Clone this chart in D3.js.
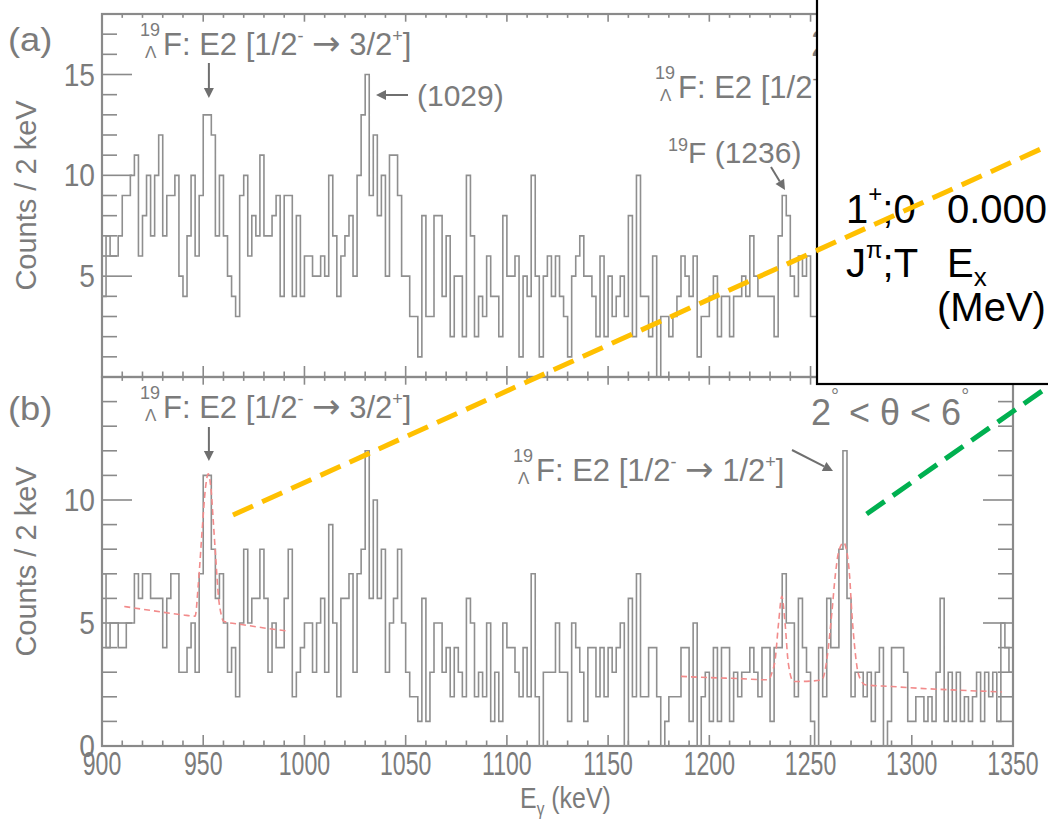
<!DOCTYPE html>
<html>
<head>
<meta charset="utf-8">
<script src="https://cdn.jsdelivr.net/npm/d3@7"></script>
<style>
  body { margin: 0; background: #fff; }
  svg { display: block; }
  text { font-family: "Liberation Sans", Arial, Helvetica, sans-serif; }
  .gray text { fill: #7b7b7b; }
  .box text { fill: #000; }
</style>
</head>
<body>
<svg id="chart" width="1048" height="822"></svg>
<script>
// Gamma-ray spectra, 2 keV bins starting at 900 keV
const binStart = 900;
const binWidth = 2;

// (a) counts per bin, 900 - 1254 keV
const countsA = [
  4, 7, 6, 6, 7, 9, 9, 10, 11, 6, 8, 10, 7, 10, 12, 7, 9, 9, 10, 5,
  4, 7, 10, 6, 9, 13, 13, 12, 7, 10, 7, 5, 4, 3, 9, 10, 6, 8, 7, 11,
  7, 7, 8, 9, 4, 9, 9, 4, 8, 4, 6, 6, 5, 5, 6, 5, 10, 7, 4, 6,
  7, 8, 5, 10, 13, 15, 9, 12, 8, 10, 5, 11, 11, 9, 5, 5, 3, 3, 1, 8,
  3, 3, 8, 8, 4, 7, 2, 5, 5, 2, 10, 7, 2, 4, 3, 6, 4, 4, 2, 8,
  5, 5, 6, 1, 5, 4, 10, 5, 1, 5, 6, 4, 6, 4, 3, 1, 5, 6, 7, 5,
  5, 4, 2, 6, 2, 5, 3, 4, 5, 3, 8, 2, 10, 4, 4, 2, 6, 0, 3, 3,
  2, 3, 4, 6, 5, 4, 6, 1, 3, 3, 4, 5, 2, 4, 4, 2, 4, 4, 5, 4,
  7, 5, 4, 4, 4, 4, 2, 7, 9, 8, 5, 4, 6, 5, 6, 3, 3
];

// (b) counts per bin, 900 - 1348 keV
const countsB = [
  7, 4, 5, 5, 4, 4, 5, 5, 7, 6, 7, 7, 6, 6, 6, 4, 6, 7, 7, 3,
  3, 4, 5, 3, 7, 11, 11, 8, 6, 7, 5, 3, 4, 2, 5, 8, 5, 6, 6, 8,
  6, 3, 5, 4, 4, 6, 8, 2, 3, 4, 5, 5, 3, 5, 6, 3, 9, 5, 2, 6,
  6, 7, 3, 7, 8, 12, 6, 10, 6, 8, 3, 5, 6, 8, 5, 3, 2, 2, 1, 6,
  1, 3, 5, 5, 3, 4, 2, 4, 3, 2, 6, 5, 2, 3, 2, 5, 1, 3, 1, 5,
  4, 4, 3, 2, 4, 2, 7, 2, 0, 3, 3, 3, 5, 3, 3, 1, 5, 4, 3, 1,
  4, 4, 2, 4, 2, 4, 3, 4, 5, 0, 6, 2, 7, 2, 2, 4, 4, 2, 0, 1,
  2, 2, 2, 4, 4, 1, 5, 0, 2, 3, 1, 4, 1, 4, 4, 1, 3, 2, 3, 3,
  4, 3, 2, 4, 4, 1, 4, 4, 7, 5, 5, 2, 6, 4, 3, 1, 0, 4, 2, 6,
  4, 4, 8, 12, 6, 2, 3, 3, 2, 3, 1, 3, 4, 0, 1, 4, 4, 4, 3, 1,
  1, 2, 2, 1, 2, 1, 3, 6, 1, 3, 1, 3, 1, 2, 1, 2, 3, 1, 3, 2,
  3, 1, 5, 4, 3
];

// Fitted curves drawn on (b): [E (keV), counts]
const fitLow = [
  [911, 5.67], [925, 5.5], [940, 5.33], [946, 5.28], [947.6, 6.6], [949.5, 8.8],
  [951, 10.4], [952.5, 11.06], [954, 10.3], [955, 9.1], [956.3, 7.5], [957.5, 6.1],
  [959, 5.3], [960, 5.07], [969, 4.94], [980, 4.8], [992, 4.67]
];
const fitHigh = [
  [1186, 2.83], [1200, 2.78], [1215, 2.74], [1229, 2.69], [1231, 3.0], [1232.5, 3.5],
  [1234.2, 5.0], [1235.8, 6.09], [1237.4, 5.0], [1239, 3.37], [1241.6, 2.62],
  [1250, 2.64], [1255.6, 2.69], [1258.2, 3.6], [1260.5, 5.4], [1262.3, 7.0],
  [1263.8, 7.86], [1266.3, 8.27], [1268, 7.86], [1269.3, 6.9], [1270.4, 5.4],
  [1271.7, 4.1], [1272.9, 3.24], [1275, 2.65], [1277, 2.49], [1290, 2.42],
  [1303, 2.35], [1320, 2.28], [1344.5, 2.2]
];

const xTickLabels = [900, 950, 1000, 1050, 1100, 1150, 1200, 1250, 1300, 1350];
const yTickLabelsA = [5, 10, 15];
const yTickLabelsB = [0, 5, 10];

// Layout
const left = 102, right = 1013;
const panelA = { top: 14, bottom: 377, ymax: 18 };
const panelB = { top: 377, bottom: 746, ymax: 15 };
const axisColor = "#8a8a8a";
const histColor = "#8f8f8f";

const svg = d3.select("#chart");
const x = d3.scaleLinear().domain([900, 1350]).range([left, right]);
const yA = d3.scaleLinear().domain([0, panelA.ymax]).range([panelA.bottom, panelA.top]);
const yB = d3.scaleLinear().domain([0, panelB.ymax]).range([panelB.bottom, panelB.top]);

// text placed at (tx, ty) with a horizontal stretch factor sx
function label(g, tx, ty, size, sx = 1, anchor = "start", rot = 0) {
  return g.append("g")
    .attr("transform", `translate(${tx},${ty}) rotate(${rot}) scale(${sx},1)`)
    .append("text").attr("font-size", size).attr("text-anchor", anchor);
}

function histPath(counts, y) {
  const pts = counts.map((c, i) => [binStart + i * binWidth, c]);
  pts.push([binStart + counts.length * binWidth, counts[counts.length - 1]]);
  return d3.line().x(d => x(d[0])).y(d => y(d[1])).curve(d3.curveStepAfter)(pts);
}

function drawFrame(panel, y, opts) {
  const g = svg.append("g");
  const majorY = 30, minorY = 15, majorX = 11, minorX = 5.5;
  const stroke = s => s.attr("stroke", axisColor).attr("stroke-width", 1.6);
  g.append("rect").attr("x", left).attr("y", panel.top)
    .attr("width", right - left).attr("height", panel.bottom - panel.top)
    .attr("fill", "none").attr("stroke", axisColor).attr("stroke-width", 2.2);
  // x ticks on bottom and top edges, pointing inward
  d3.range(900, 1351, 10).forEach(v => {
    const len = v % 50 === 0 ? majorX : minorX;
    stroke(g.append("line").attr("x1", x(v)).attr("x2", x(v))
      .attr("y1", panel.bottom).attr("y2", panel.bottom - len));
    stroke(g.append("line").attr("x1", x(v)).attr("x2", x(v))
      .attr("y1", panel.top).attr("y2", panel.top + len * 0.7));
  });
  // y ticks on left and right edges
  d3.range(0, panel.ymax + 0.01, 1).forEach(v => {
    const len = v % 5 === 0 ? majorY : minorY;
    stroke(g.append("line").attr("x1", left).attr("x2", left + len)
      .attr("y1", y(v)).attr("y2", y(v)));
    stroke(g.append("line").attr("x1", right).attr("x2", right - len)
      .attr("y1", y(v)).attr("y2", y(v)));
  });
  const lab = g.append("g").attr("class", "gray");
  opts.yLabels.forEach(v => {
    label(lab, 95, y(v) + 11, 32, 0.88, "end").text(v);
  });
  const yc = (panel.top + panel.bottom) / 2;
  label(lab, 36, yc, 29, 1, "middle", -90).text("Counts / 2 keV");
  label(lab, 8, opts.tagY, 33, 1.1).text(opts.tag);
  return g;
}

function arrow(g, x1, y1, x2, y2) {
  const ang = Math.atan2(y2 - y1, x2 - x1);
  const hl = 10, hw = 5;
  const bx = x2 - hl * Math.cos(ang), by = y2 - hl * Math.sin(ang);
  g.append("line").attr("x1", x1).attr("y1", y1).attr("x2", bx).attr("y2", by)
    .attr("stroke", "#6f6f6f").attr("stroke-width", 2);
  g.append("path")
    .attr("d", `M${x2},${y2} L${bx - hw * Math.sin(ang)},${by + hw * Math.cos(ang)} L${bx + hw * Math.sin(ang)},${by - hw * Math.cos(ang)} Z`)
    .attr("fill", "#6f6f6f");
}

// 19-Lambda-F transition label: pre-superscript 19, pre-subscript Lambda
function hyperLabel(g, x0, base, finalSpin, parity) {
  const t = g.append("g").attr("class", "gray");
  label(t, x0, base - 19, 18).text("19");
  label(t, x0 + 5, base + 3, 17).attr("font-family", "Liberation Serif, serif").text("\u039B");
  const m = label(t, x0 + 23, base, 31);
  m.append("tspan").text("F: E2 [1/2");
  m.append("tspan").attr("dy", -13).attr("font-size", 18).text("-");
  m.append("tspan").attr("dy", 13).text(" ");
  m.append("tspan").attr("font-family", "DejaVu Sans, sans-serif").attr("font-size", 34).text("\u2192");
  m.append("tspan").text(" " + finalSpin);
  m.append("tspan").attr("dy", -13).attr("font-size", 18).text(parity);
  m.append("tspan").attr("dy", 13).text("]");
}

// ---------- panel (a)
drawFrame(panelA, yA, { yLabels: yTickLabelsA, tag: "(a)", tagY: 51 });
svg.append("path").attr("d", histPath(countsA, yA))
  .attr("fill", "none").attr("stroke", histColor).attr("stroke-width", 1.6);

const annA = svg.append("g");
hyperLabel(annA, 140, 55, "3/2", "+");
arrow(annA, x(952.8), 63, x(952.8), 98);
arrow(annA, 408, 95, 376, 95);
label(annA.append("g").attr("class", "gray"), 417, 106, 30).text("(1029)");
hyperLabel(annA, 655, 98, "1/2", "+");
label(annA.append("g").attr("class", "gray"), 811, 56, 36).text("2");
const f19 = label(annA.append("g").attr("class", "gray"), 668, 163, 30);
f19.append("tspan").attr("font-size", 18).attr("dy", -12).text("19");
f19.append("tspan").attr("dy", 12).text("F (1236)");
arrow(annA, 771, 167, 785, 190);

// ---------- panel (b)
drawFrame(panelB, yB, { yLabels: yTickLabelsB, tag: "(b)", tagY: 420 });
svg.append("path").attr("d", histPath(countsB, yB))
  .attr("fill", "none").attr("stroke", histColor).attr("stroke-width", 1.6);

const fitLine = d3.line().x(d => x(d[0])).y(d => yB(d[1])).curve(d3.curveMonotoneX);
[fitLow, fitHigh].forEach(f => {
  svg.append("path").attr("d", fitLine(f)).attr("fill", "none")
    .attr("stroke", "#f28b8b").attr("stroke-width", 1.6).attr("stroke-dasharray", "6,4");
});

const annB = svg.append("g");
hyperLabel(annB, 140, 418, "3/2", "+");
arrow(annB, x(952.8), 427, x(952.8), 461);
hyperLabel(annB, 513, 481, "1/2", "+");
arrow(annB, 792, 450, 833, 471);
const theta = label(annB.append("g").attr("class", "gray"), 811, 425, 36);
theta.append("tspan").text("2");
theta.append("tspan").attr("dy", -22).attr("font-size", 20).text("\u00B0");
theta.append("tspan").attr("dy", 22).text(" < \u03B8 < 6");
theta.append("tspan").attr("dy", -22).attr("font-size", 20).text("\u00B0");

// x tick labels and title
const xl = svg.append("g").attr("class", "gray");
xTickLabels.forEach(v => {
  label(xl, x(v), 775, 33, 0.7, "middle").text(v);
});
const xt = label(xl, 520, 808, 29, 0.86);
xt.append("tspan").text("E");
xt.append("tspan").attr("dy", 7).attr("font-size", 18).text("\u03B3");
xt.append("tspan").attr("dy", -7).text(" (keV)");

// ---------- level-scheme inset (upper right)
const box = svg.append("g").attr("class", "box");
box.append("rect").attr("x", 817).attr("y", -5).attr("width", 260).attr("height", 389)
  .attr("fill", "#fff").attr("stroke", "#000").attr("stroke-width", 2.2);
const l1 = label(box, 846, 223, 40);
l1.append("tspan").text("1");
l1.append("tspan").attr("dy", -21).attr("font-size", 24).text("+");
l1.append("tspan").attr("dy", 21).text(";0");
label(box, 947, 223, 40).text("0.000");
const l2 = label(box, 846, 277, 40);
l2.append("tspan").text("J");
l2.append("tspan").attr("dy", -19).attr("font-size", 24).text("\u03C0");
l2.append("tspan").attr("dy", 19).text(";T");
const l3 = label(box, 947, 277, 40);
l3.append("tspan").text("E");
l3.append("tspan").attr("dy", 9).attr("font-size", 26).text("x");
label(box, 937, 321, 40).text("(MeV)");

// connector lines from the spectrum peaks to the level scheme
const connectors = [
  { from: [964.7, 9.39], to: [1367.3, 24.4], color: "#FFC000" },
  { from: [1277.7, 9.43], to: [1367.3, 14.6], color: "#00B050" }
];
connectors.forEach(c => {
  svg.append("line")
    .attr("x1", x(c.from[0])).attr("y1", yB(c.from[1]))
    .attr("x2", x(c.to[0])).attr("y2", yB(c.to[1]))
    .attr("stroke", c.color).attr("stroke-width", 5)
    .attr("stroke-dasharray", "22,10");
});
</script>
</body>
</html>
